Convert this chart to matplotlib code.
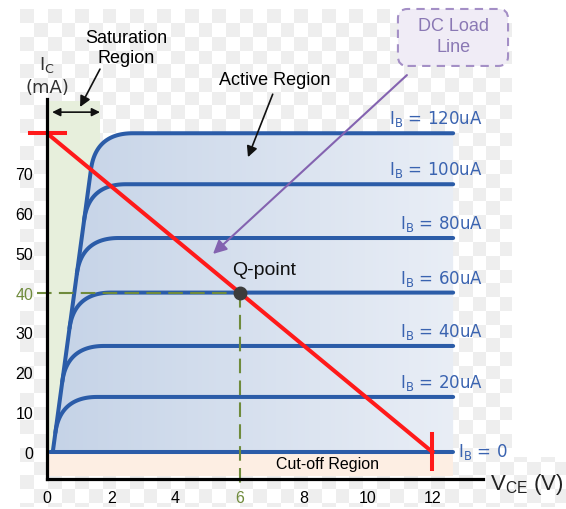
import numpy as np
import matplotlib
matplotlib.use('Agg')
import matplotlib.pyplot as plt
from matplotlib.patches import Polygon, Rectangle, FancyBboxPatch
from matplotlib.colors import LinearSegmentedColormap

plt.rcParams['font.family'] = ['Liberation Sans', 'DejaVu Sans']

# output characteristic levels (collector current, mA) for each base current
ib_labels = ['120uA', '100uA', '80uA', '60uA', '40uA', '20uA']
ib_levels = [80.0, 67.2, 53.7, 40.0, 26.6, 13.8]
vce_end = 12.65

# saturation edge: Ic = sat_slope * (Vce - sat_v0)
sat_v0 = 0.18
sat_slope = 59.6
knee_drop = 9.0   # mA below the level where a curve leaves the edge
knee_run = 1.15   # V after the corner where the curve is flat

# load line and operating point
vcc = 12.0
ic_max = 80.0
q_v, q_i = 6.0, 40.0

x_ticks = [0, 2, 4, 6, 8, 10, 12]
y_ticks = [0, 10, 20, 30, 40, 50, 60, 70]

blue = '#2b5ca8'
olive = '#6f8b3c'
label_blue = '#3a63b0'


def knee(level, n=40):
    i0 = level - knee_drop
    p0 = np.array([sat_v0 + i0 / sat_slope, i0])
    p1 = np.array([sat_v0 + level / sat_slope, level])
    p2 = np.array([p1[0] + knee_run, level])
    t = np.linspace(0, 1, n)[:, None]
    return (1 - t) ** 2 * p0 + 2 * (1 - t) * t * p1 + t ** 2 * p2


W, H = 566, 510
fig = plt.figure(figsize=(W / 100, H / 100), dpi=100)
ax = fig.add_axes([47 / W, 30 / H, 436 / W, 380 / H])
ax.patch.set_visible(False)

# light checkered backdrop
yy, xx = np.mgrid[0:H, 0:W]
cell = 13.7
checker = (np.floor((xx - 20) / cell) + np.floor((yy - 10) / cell)) % 2 == 0
inside = (xx >= 20) & (yy >= 10) & (yy < 508) & ((xx < 512) | (yy >= 458))
bg = np.ones((H, W, 4))
bg[..., :3] = 0.937
bg[..., 3] = (checker & inside).astype(float)
fig.figimage(bg, 0, 0, origin='upper', zorder=-1)

# saturation and cut-off bands
ax.add_patch(Rectangle((0, 0), 1.65, 88, fc='#e7efdc', ec='none', zorder=0.5))
ax.add_patch(Rectangle((0, -6), vce_end, 6, fc='#fdeee3', ec='none', zorder=0.5))

# active region shading under the top curve
top = np.vstack([[sat_v0, 0], knee(ib_levels[0]), [vce_end, ib_levels[0]], [vce_end, 0]])
region = Polygon(top, closed=True, fc='none', ec='none')
ax.add_patch(region)
cmap = LinearSegmentedColormap.from_list('active', ['#c5d3e7', '#e9eef6'])
im = ax.imshow(np.linspace(0, 1, 256)[None, :], extent=[sat_v0, vce_end, 0, ib_levels[0]],
               cmap=cmap, aspect='auto', zorder=1)
im.set_clip_path(region)

# characteristic curves
for k, level in enumerate(ib_levels):
    pts = np.vstack([knee(level), [vce_end, level]])
    if k == 0:
        pts = np.vstack([[sat_v0, 0], pts])
    ax.plot(pts[:, 0], pts[:, 1], color=blue, lw=2.9, solid_capstyle='round',
            solid_joinstyle='round', zorder=3)
    ax.text(13.58, level + 2.5, r'$\mathregular{I_B}$ = ' + ib_labels[k], ha='right', va='baseline',
            fontsize=12, color=label_blue, family='DejaVu Sans', clip_on=False)
ax.plot([0.1, vce_end], [0, 0], color=blue, lw=2.9, solid_capstyle='round', zorder=3)
ax.text(12.8, -1.0, r'$\mathregular{I_B}$ = 0', ha='left', va='baseline', fontsize=12,
        color=label_blue, family='DejaVu Sans', clip_on=False)

# Q-point guides
ax.plot([-0.31, q_v], [q_i, q_i], ls=(0, (7, 3.5)), color=olive, lw=1.5, zorder=4, clip_on=False)
ax.plot([q_v, q_v], [q_i, -8.8], ls=(0, (7, 3.5)), color=olive, lw=1.5, zorder=4, clip_on=False)

# DC load line
ax.plot([0, vcc], [ic_max, 0], color='#ff1a1a', lw=2.9, zorder=5)
ax.plot([-0.53, 0.56], [ic_max, ic_max], color='#ff1a1a', lw=2.9, zorder=5, clip_on=False)
ax.plot([vcc, vcc], [4.5, -4.3], color='#ff1a1a', lw=2.9, zorder=5, clip_on=False)
ax.plot([q_v], [q_i], 'o', ms=9, color='#3c3c3c', zorder=6)
ax.text(5.76, 45.9, 'Q-point', fontsize=14, ha='left', va='center', color='#111111')

# region labels
arrow = dict(arrowstyle='-|>', color='#111111', lw=1.2, mutation_scale=16, shrinkA=0, shrinkB=0)
ax.text(7.10, 93.6, 'Active Region', fontsize=13, ha='center', va='center', clip_on=False)
ax.annotate('', xy=(6.26, 74.0), xytext=(7.03, 89.8), arrowprops=arrow, annotation_clip=False)
ax.text(2.46, 101.5, 'Saturation\nRegion', fontsize=13, ha='center', va='center',
        linespacing=1.25, clip_on=False)
ax.annotate('', xy=(1.03, 86.6), xytext=(1.65, 96.1), arrowprops=arrow, annotation_clip=False)
ax.annotate('', xy=(0.16, 85.3), xytext=(1.65, 85.3), annotation_clip=False,
            arrowprops=dict(arrowstyle='<|-|>', color='#111111', lw=1.2, mutation_scale=12,
                            shrinkA=0, shrinkB=0))
ax.text(8.75, -3.0, 'Cut-off Region', fontsize=11.5, ha='center', va='center', zorder=4)

# DC load line callout
ax.add_patch(FancyBboxPatch((10.93, 96.9), 3.43, 14.3, boxstyle='round,pad=0,rounding_size=0.3',
                            mutation_aspect=8.06, fc='#f0ecf6', ec='#a48fc6', lw=1.5,
                            ls=(0, (4, 3)), clip_on=False, zorder=2))
ax.text(12.65, 104.4, 'DC Load\nLine', fontsize=13, ha='center', va='center', linespacing=1.25,
        color='#8a78b4', clip_on=False, zorder=3)
ax.annotate('', xy=(5.17, 49.7), xytext=(11.21, 94.6), annotation_clip=False, zorder=7,
            arrowprops=dict(arrowstyle='-|>', color='#8463b0', lw=1.5, mutation_scale=20,
                            shrinkA=0, shrinkB=0))

# axis titles
ax.text(0, 97.4, r'$\mathregular{I_C}$', fontsize=13, ha='center', va='center',
        color='#333333', family='DejaVu Sans', clip_on=False)
ax.text(0, 91.6, '(mA)', fontsize=13, ha='center', va='center',
        color='#333333', family='DejaVu Sans', clip_on=False)
ax.text(13.8, -8.0, r'$\mathregular{V_{CE}}$ (V)', fontsize=16, ha='left', va='center',
        color='#222222', clip_on=False)

ax.set_xlim(0, 13.58)
ax.set_ylim(-6.8, 88.6)
ax.set_xticks(x_ticks)
ax.set_yticks(y_ticks)
ax.tick_params(length=0, labelsize=11.5)
ax.tick_params(axis='y', pad=10)
ax.tick_params(axis='x', pad=8)
ax.get_yticklabels()[y_ticks.index(40)].set_color(olive)
ax.get_xticklabels()[x_ticks.index(6)].set_color(olive)
for side in ['top', 'right']:
    ax.spines[side].set_visible(False)
for side in ['left', 'bottom']:
    ax.spines[side].set_linewidth(2.3)
    ax.spines[side].set_zorder(8)

fig.savefig('out.png', dpi=100)
